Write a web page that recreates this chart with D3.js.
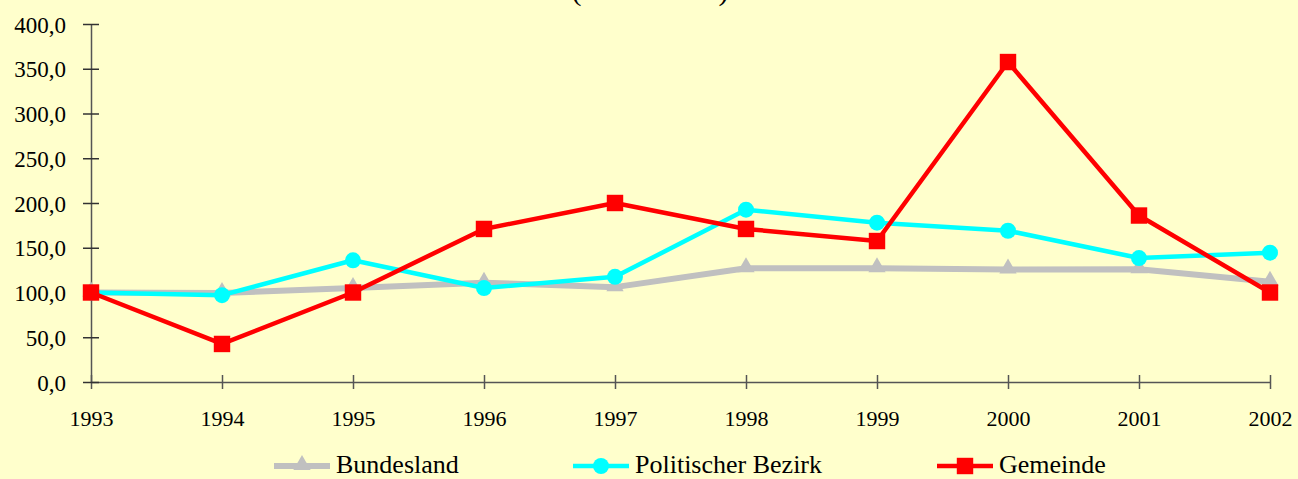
<!DOCTYPE html>
<html>
<head>
<meta charset="utf-8">
<script src="https://cdn.jsdelivr.net/npm/d3@7"></script>
<style>
  body { margin: 0; background: #ffffcc; }
  svg { display: block; font-family: "Liberation Serif", "Times New Roman", serif; }
</style>
</head>
<body>
<svg id="chart"></svg>
<script>
const WIDTH = 1298;
const HEIGHT = 479;

// values (index 1993 = 100)
const years = ['1993', '1994', '1995', '1996', '1997', '1998', '1999', '2000', '2001', '2002'];
const bundesland = [100, 99.5, 105, 111, 106, 127, 127, 125.7, 126, 112];
const bezirk = [100, 97, 136, 105, 117.5, 192.5, 178, 169, 138.5, 144.5];
const gemeinde = [100, 42.5, 100, 171, 200, 171, 157.5, 357.5, 186, 100];
const yTicks = [0, 50, 100, 150, 200, 250, 300, 350, 400];

const seriesNames = ['Bundesland', 'Politischer Bezirk', 'Gemeinde'];
const seriesColors = ['#c0c0c0', '#00ffff', '#ff0000'];
const seriesMarkers = ['triangle', 'circle', 'square'];

function makeChart() {
    let svg = d3.select('#chart')
        .attr('width', WIDTH)
        .attr('height', HEIGHT);

    svg.append('rect')
        .attr('width', WIDTH)
        .attr('height', HEIGHT)
        .attr('fill', '#ffffcc');

    // title, mostly cut off at the top edge (as in the original)
    svg.append('text')
        .attr('x', 650)
        .attr('y', 0)
        .attr('text-anchor', 'middle')
        .style('font-size', '30px')
        .text('(1993 = 100)');

    let x = d3.scalePoint()
        .domain(years)
        .range([91, 1270]);
    let y = d3.scaleLinear()
        .domain([0, 400])
        .range([382, 24]);

    let xAxis = d3.axisBottom(x).tickSize(0).tickPadding(0);
    let yAxis = d3.axisLeft(y)
        .tickValues(yTicks)
        .tickSize(0)
        .tickFormat(d => d3.format('.1f')(d).replace('.', ','));

    let gx = svg.append('g')
        .attr('transform', `translate(0, ${y(0)})`)
        .call(xAxis);
    gx.select('.domain').attr('stroke', '#555').attr('stroke-width', 1.5);
    gx.selectAll('.tick line')
        .attr('y1', -7).attr('y2', 7)
        .attr('stroke', '#555').attr('stroke-width', 1.5);
    gx.selectAll('.tick text')
        .attr('y', 44)
        .attr('dy', 0)
        .attr('fill', '#000')
        .style('font-size', '22px')
        .style('font-family', '"Liberation Serif", serif');

    let gy = svg.append('g')
        .attr('transform', `translate(${x('1993')}, 0)`)
        .call(yAxis);
    gy.select('.domain').attr('stroke', '#555').attr('stroke-width', 1.5);
    gy.selectAll('.tick line')
        .attr('x1', -8).attr('x2', 8)
        .attr('stroke', '#333').attr('stroke-width', 1.5);
    gy.selectAll('.tick text')
        .attr('x', -25)
        .attr('dy', '0.35em')
        .attr('fill', '#000')
        .style('font-size', '23px')
        .style('font-family', '"Liberation Serif", serif');

    let allSeries = [bundesland, bezirk, gemeinde];
    let line = d3.line()
        .x((d, i) => x(years[i]))
        .y(d => y(d));

    let symbolFor = {
        triangle: d3.symbol().type(d3.symbolTriangle).size(130),
        circle: d3.symbol().type(d3.symbolCircle).size(200),
        square: d3.symbol().type(d3.symbolSquare).size(270),
    };

    allSeries.forEach((vals, s) => {
        svg.append('path')
            .datum(vals)
            .attr('fill', 'none')
            .attr('stroke', seriesColors[s])
            .attr('stroke-width', s == 0 ? 6 : 4.5)
            .attr('stroke-linejoin', 'round')
            .attr('d', line);

        svg.selectAll('.marker-' + s)
            .data(vals)
            .enter().append('path')
            .attr('class', 'marker-' + s)
            .attr('fill', seriesColors[s])
            .attr('transform', (d, i) => `translate(${x(years[i])}, ${y(d) + (s == 0 ? -1 : 0)})`)
            .attr('d', symbolFor[seriesMarkers[s]]);
    });

    // legend
    const legendX = [274, 573, 937];
    const legendY = 466;
    let legend = svg.selectAll('.legend')
        .data(seriesNames)
        .enter().append('g')
        .attr('class', 'legend')
        .attr('transform', (d, i) => `translate(${legendX[i]}, ${legendY})`);

    legend.append('line')
        .attr('x1', 0).attr('x2', 56)
        .attr('stroke', (d, i) => seriesColors[i])
        .attr('stroke-width', (d, i) => i == 0 ? 6 : 4.5);
    legend.append('path')
        .attr('transform', (d, i) => `translate(28, ${i == 0 ? -1 : 0})`)
        .attr('fill', (d, i) => seriesColors[i])
        .attr('d', (d, i) => symbolFor[seriesMarkers[i]]());
    legend.append('text')
        .attr('x', 62)
        .attr('y', 7)
        .style('font-size', '26px')
        .text(d => d);
}

makeChart();
</script>
</body>
</html>
